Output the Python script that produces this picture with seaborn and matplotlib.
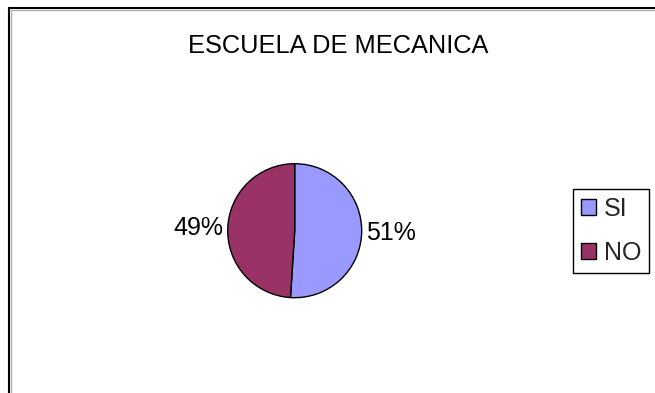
import matplotlib
matplotlib.use("Agg")
import matplotlib.pyplot as plt
import seaborn as sns
from matplotlib.lines import Line2D

# Survey answers for the mechanics school
categories = ["SI", "NO"]
counts = [51, 49]
colors = ["#9999FF", "#993366"]
title = "ESCUELA DE MECANICA"

sns.set_theme(style="white")
plt.rcParams["font.family"] = ["Liberation Sans", "DejaVu Sans"]

W, H = 655, 393
fig = plt.figure(figsize=(W / 100, H / 100), dpi=100, facecolor="white")

# Pie placed by its centre and radius in pixels
cx, cy, r = 294.7, 230.7, 67
ax = fig.add_axes([(cx - r) / W, (H - cy - r) / H, 2 * r / W, 2 * r / H])
total = sum(counts)
pct_labels = [f"{round(100 * c / total)}%" for c in counts]
wedges, texts = ax.pie(
    counts,
    labels=pct_labels,
    colors=colors,
    startangle=90,
    counterclock=False,
    labeldistance=1.07,
    wedgeprops=dict(edgecolor="black", linewidth=1.0),
    textprops=dict(fontsize=18, color="black"),
)
ax.set_xlim(-1, 1)
ax.set_ylim(-1, 1)

fig.text(338 / W, 1 - 46 / H, title, ha="center", va="center",
         fontsize=18.3, color="black")

leg = fig.legend(
    wedges, categories,
    loc="upper left",
    bbox_to_anchor=(573 / W, 1 - 189 / H),
    bbox_transform=fig.transFigure,
    borderaxespad=0,
    frameon=True, fancybox=False, shadow=False,
    edgecolor="black", framealpha=1,
    fontsize=18,
    handlelength=0.6, handleheight=0.6, handletextpad=0.3,
    borderpad=0.32, labelspacing=0.8,
)
leg.get_frame().set_linewidth(1.0)

# Chart-area border (top and left edges) with a soft inner shadow
fig.add_artist(Line2D([9 / W, 9 / W], [0, 1 - 8 / H], transform=fig.transFigure,
                      color="black", lw=1.5))
fig.add_artist(Line2D([9 / W, 1], [1 - 8 / H, 1 - 8 / H], transform=fig.transFigure,
                      color="black", lw=1.5))
fig.add_artist(Line2D([11 / W, 11 / W], [0, 1 - 10 / H], transform=fig.transFigure,
                      color="#b0b0b0", lw=1.0))
fig.add_artist(Line2D([11 / W, 1], [1 - 10 / H, 1 - 10 / H], transform=fig.transFigure,
                      color="#b0b0b0", lw=1.0))

fig.savefig("out.png", dpi=100, facecolor="white")
